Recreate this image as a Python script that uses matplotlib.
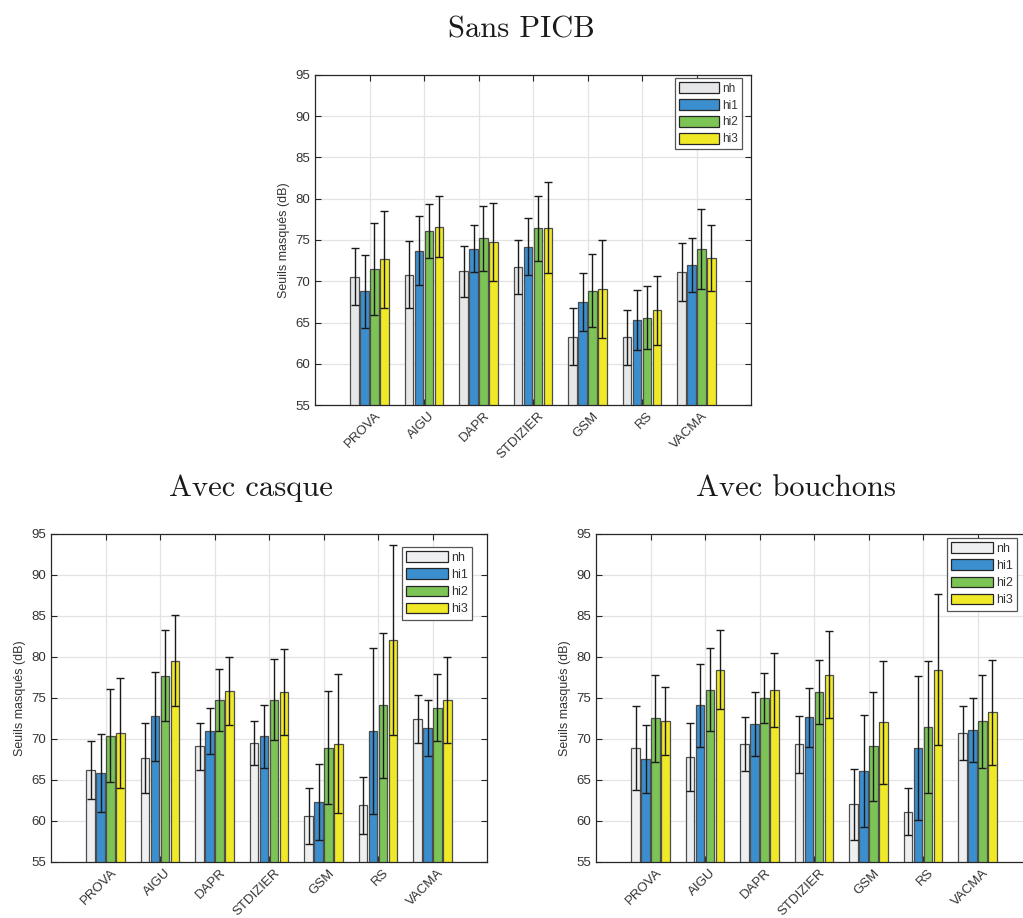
import numpy as np
import matplotlib
matplotlib.use('Agg')
import matplotlib.pyplot as plt
import matplotlib.transforms as mtransforms
from matplotlib.patches import Patch

CATEGORIES = ['PROVA', 'AIGU', 'DAPR', 'STDIZIER', 'GSM', 'RS', 'VACMA']
SERIES     = ['nh', 'hi1', 'hi2', 'hi3']

# Sans PICB : moyennes et écarts-types
sans_mean = {
    'nh':  [70.55, 70.8, 71.2, 71.75, 63.3, 63.2, 71.15],
    'hi1': [68.8, 73.7, 73.95, 74.2, 67.5, 65.35, 72.0],
    'hi2': [71.5, 76.1, 75.2, 76.4, 68.85, 65.6, 73.95],
    'hi3': [72.65, 76.6, 74.75, 76.5, 69.1, 66.5, 72.8],
}
sans_sd = {
    'nh':  [3.45, 4.05, 3.1, 3.25, 3.43, 3.35, 3.5],
    'hi1': [4.43, 4.18, 2.85, 3.45, 3.55, 3.63, 3.25],
    'hi2': [5.6, 3.23, 3.98, 3.9, 4.43, 3.78, 4.85],
    'hi3': [5.9, 3.7, 4.7, 5.55, 5.95, 4.18, 4.03],
}

# Avec casque
casque_mean = {
    'nh':  [66.25, 67.7, 69.1, 69.5, 60.6, 61.9, 72.45],
    'hi1': [65.85, 72.8, 70.95, 70.35, 62.35, 70.95, 71.35],
    'hi2': [70.4, 77.7, 74.8, 74.8, 68.95, 74.1, 73.8],
    'hi3': [70.75, 79.55, 75.85, 75.75, 69.4, 82.05, 74.8],
}
casque_sd = {
    'nh':  [3.55, 4.23, 2.88, 2.65, 3.43, 3.45, 2.88],
    'hi1': [4.78, 5.43, 2.78, 3.83, 4.63, 10.15, 3.4],
    'hi2': [5.65, 5.55, 3.78, 4.93, 6.85, 8.85, 4.08],
    'hi3': [6.68, 5.55, 4.13, 5.25, 8.48, 11.58, 5.23],
}

# Avec bouchons
bouchons_mean = {
    'nh':  [68.9, 67.8, 69.35, 69.35, 62.05, 61.15, 70.75],
    'hi1': [67.55, 74.1, 71.8, 72.65, 66.1, 68.9, 71.1],
    'hi2': [72.5, 76.0, 75.0, 75.7, 69.1, 71.5, 72.15],
    'hi3': [72.2, 78.45, 76.0, 77.85, 72.05, 78.45, 73.25],
}
bouchons_sd = {
    'nh':  [5.18, 4.15, 3.28, 3.45, 4.33, 2.83, 3.33],
    'hi1': [4.15, 5.03, 3.9, 3.63, 6.8, 8.8, 3.9],
    'hi2': [5.3, 5.05, 3.08, 3.9, 6.63, 8.05, 5.65],
    'hi3': [4.15, 4.8, 4.53, 5.28, 7.48, 9.18, 6.38],
}

COLORS_TOP = ['#e6e7e8', '#3b8fcf', '#7dc457', '#f0e927']
COLORS_BOT = ['#eeeff0', '#3b8fcf', '#7dc457', '#f0e927']

plt.rcParams['font.family'] = ['Liberation Sans', 'DejaVu Sans']

fig = plt.figure(figsize=(10.23, 9.18), dpi=100)
W, H = 1023, 918
TXT = '#333333'


def panel(rect_px, means, sds, colors, legfs, hlen, hh, leg_corner):
    l, r, t, b = rect_px
    ax = fig.add_axes([l / W, 1 - b / H, (r - l) / W, (b - t) / H])
    x = np.arange(1, len(CATEGORIES) + 1)
    step, w = 0.182, 0.153
    for i, s in enumerate(SERIES):
        xs = x + (i - 1.5) * step
        ax.bar(xs, means[s], w, color=colors[i], edgecolor='#4d4d4d', linewidth=0.9, zorder=2)
        ax.errorbar(xs, means[s], yerr=sds[s], fmt='none', ecolor='#1a1a1a',
                    elinewidth=1.0, capsize=3.2, capthick=1.0, zorder=3)
    ax.set_xlim(0, 8)
    ax.set_ylim(55, 95)
    ax.set_yticks(np.arange(55, 96, 5))
    ax.set_xticks(x)
    ax.set_xticklabels([])
    # rotated category labels, end of text just right of the tick
    off = mtransforms.ScaledTranslation(9 / 100, -9 / 100, fig.dpi_scale_trans)
    for xi, name in zip(x, CATEGORIES):
        ax.text(xi, 0, name, transform=ax.get_xaxis_transform() + off,
                rotation=45, rotation_mode='anchor', ha='right', va='center',
                fontsize=9.5, color=TXT)
    ax.tick_params(direction='in', length=4, top=True, right=True,
                   color='#262626', labelsize=9.5, labelcolor=TXT)
    ax.grid(True, color='#e3e3e3', linewidth=0.9, zorder=0)
    ax.set_axisbelow(True)
    for sp in ax.spines.values():
        sp.set_color('#262626')
        sp.set_linewidth(0.9)
    ax.set_ylabel('Seuils masqués (dB)', fontsize=9, color=TXT)
    handles = [Patch(facecolor=c, edgecolor='#262626', linewidth=0.9) for c in colors]
    lx, ly = leg_corner
    leg = ax.legend(handles, SERIES, loc='upper right', fontsize=legfs,
                    bbox_to_anchor=(lx / W, 1 - ly / H), bbox_transform=fig.transFigure,
                    handlelength=hlen, handleheight=hh, handletextpad=0.25,
                    labelspacing=0.35, borderpad=0.35, borderaxespad=0.0,
                    fancybox=False, framealpha=1, edgecolor='#555555')
    leg.get_frame().set_linewidth(0.9)
    for tx in leg.get_texts():
        tx.set_color(TXT)
    return ax


panel((315, 751, 75, 405), sans_mean, sans_sd, COLORS_TOP, 8.5, 3.4, 1.1, (742, 78))
panel((51, 487, 534, 862), casque_mean, casque_sd, COLORS_BOT, 9, 3.3, 0.95, (472, 547))
panel((596, 1032, 534, 862), bouchons_mean, bouchons_sd, COLORS_BOT, 9, 3.3, 0.95, (1017, 538))

fig.text(521 / W, 1 - 37 / H, 'Sans PICB', family='cmr10', fontsize=22,
         ha='center', va='baseline', color='#1a1a1a')
fig.text(251 / W, 1 - 496 / H, 'Avec casque', family='cmr10', fontsize=22,
         ha='center', va='baseline', color='#1a1a1a')
fig.text(796 / W, 1 - 496 / H, 'Avec bouchons', family='cmr10', fontsize=22,
         ha='center', va='baseline', color='#1a1a1a')

fig.savefig('out.png', dpi=100)
